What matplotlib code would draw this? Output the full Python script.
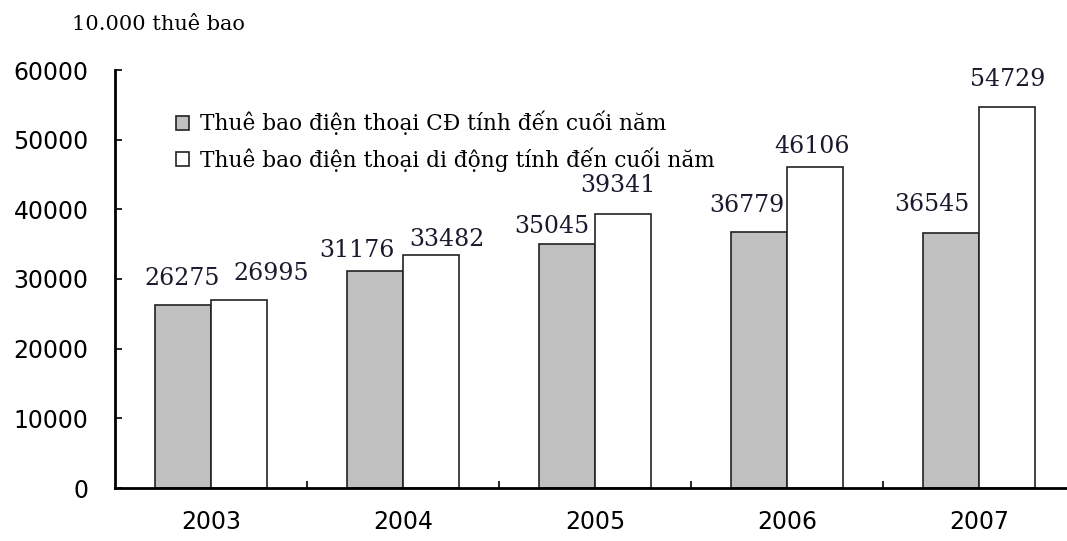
import numpy as np
import matplotlib
matplotlib.use("Agg")
import matplotlib.pyplot as plt
from matplotlib.patches import Patch
from matplotlib.ticker import FixedLocator

# Subscribers (unit: 10,000) at year end
years = ["2003", "2004", "2005", "2006", "2007"]
fixed_line = [26275, 31176, 35045, 36779, 36545]
mobile = [26995, 33482, 39341, 46106, 54729]
series_names = [
    "Thuê bao điện thoại CĐ tính đến cuối năm",
    "Thuê bao điện thoại di động tính đến cuối năm",
]

# label nudges in pixels (dx, gap above bar)
fixed_nudge = [(-1, 17), (-18, 11), (-15, 8), (-12, 17), (-19, 19)]
mobile_nudge = [(32, 17), (16, 6), (-5, 19), (-3, 11), (1, 18)]

W, H = 1067, 541
fig = plt.figure(figsize=(W / 100, H / 100), dpi=100)
ax = fig.add_axes([115 / W, 53 / H, 1 - 115 / W, (488 - 70) / H])

x = np.arange(len(years))
bw = 0.29
gray = "#c0c0c0"
edge = "#222222"
ax.bar(x - bw / 2, fixed_line, bw, color=gray, edgecolor=edge, linewidth=1.2)
ax.bar(x + bw / 2, mobile, bw, color="white", edgecolor=edge, linewidth=1.2)

ax.set_xlim(-0.5, -0.5 + (W - 115) / 192)
ax.set_ylim(0, 60000)
ax.set_yticks(np.arange(0, 60001, 10000))

ax.set_xticks(x)
ax.set_xticklabels(years)
ax.xaxis.set_minor_locator(FixedLocator(x[:-1] + 0.5))
ax.tick_params(axis="x", which="major", length=0, pad=16)
ax.tick_params(axis="x", which="minor", direction="in", length=5, width=1.2)
ax.tick_params(axis="y", direction="in", length=5, width=1.2, pad=19)
for lab in ax.get_xticklabels() + ax.get_yticklabels():
    lab.set_fontfamily("DejaVu Sans")
    lab.set_fontsize(17)

for side in ["top", "right"]:
    ax.spines[side].set_visible(False)
for side in ["left", "bottom"]:
    ax.spines[side].set_linewidth(2)
    ax.spines[side].set_color("black")

# value labels above each bar
for xi, v, (dx, gap) in zip(x - bw / 2, fixed_line, fixed_nudge):
    ax.annotate(str(v), (xi, v), xytext=(dx * 0.72, gap * 0.72 - 1.5),
                textcoords="offset points", ha="center", va="bottom",
                fontsize=17, family="DejaVu Serif", color="#1a1a2e")
for xi, v, (dx, gap) in zip(x + bw / 2, mobile, mobile_nudge):
    ax.annotate(str(v), (xi, v), xytext=(dx * 0.72, gap * 0.72 - 1.5),
                textcoords="offset points", ha="center", va="bottom",
                fontsize=17, family="DejaVu Serif", color="#1a1a2e")

handles = [Patch(facecolor=gray, edgecolor=edge, linewidth=1.2),
           Patch(facecolor="white", edgecolor=edge, linewidth=1.2)]
ax.legend(handles, series_names, loc="upper left",
          bbox_to_anchor=(176 / W, 1 - 111 / H), bbox_transform=fig.transFigure,
          frameon=False, borderpad=0, borderaxespad=0,
          handlelength=0.6, handleheight=0.6, handletextpad=0.5,
          labelspacing=0.55, prop={"family": "DejaVu Serif", "size": 15.6})

fig.text(72 / W, 1 - 24 / H, "10.000 thuê bao", ha="left", va="center",
         fontsize=15, family="DejaVu Serif")

fig.savefig("out.png", dpi=100)
